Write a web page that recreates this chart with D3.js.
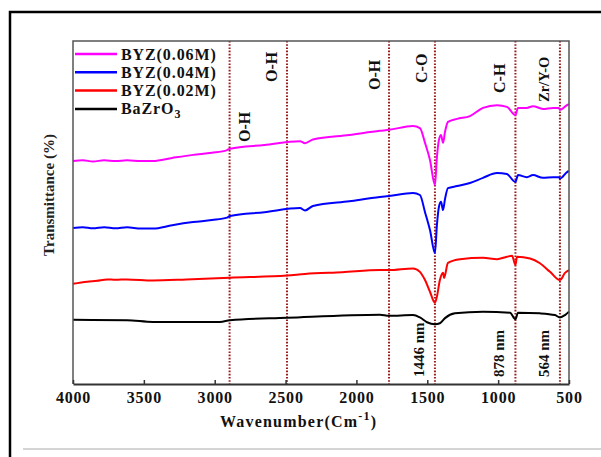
<!DOCTYPE html>
<html>
<head>
<meta charset="utf-8">
<script src="https://cdn.jsdelivr.net/npm/d3@7"></script>
<style>
    body { margin: 0; background: #fff; }
    text { font-family: "Liberation Serif", "Times New Roman", serif; font-weight: bold; }
</style>
</head>
<body>
<div id="chart"></div>
<script>

// series names, colours (legend order top to bottom)
var seriesNames = ["BYZ(0.06M)", "BYZ(0.04M)", "BYZ(0.02M)", "BaZrO3"];
var seriesColours = ["#ff00ff", "#0000ff", "#ff0000", "#000000"];

// [wavenumber, transmittance]
var byz06 = [
    [4000, 65.0], [3930, 65.2], [3860, 64.9], [3780, 65.2], [3700, 65.0], [3619, 65.2],
    [3520, 65.0], [3436, 65.0], [3300, 65.9], [3153, 66.8], [3020, 67.4], [2913, 68.2],
    [2892, 68.6], [2650, 69.7], [2398, 70.8], [2363, 70.2], [2307, 71.3], [2050, 72.6],
    [1834, 73.8], [1770, 74.1], [1601, 75.2], [1552, 74.6], [1516, 70.3], [1481, 65.3],
    [1446, 58.0], [1432, 66.2], [1418, 71.1], [1403, 72.6], [1389, 70.3], [1375, 73.5],
    [1354, 76.4], [1290, 77.3], [1199, 78.1], [1107, 80.5], [1008, 81.3], [938, 80.8],
    [878, 78.4], [860, 80.5], [797, 80.5], [754, 81.0], [684, 80.2], [613, 80.5],
    [571, 80.5], [564, 79.9], [514, 81.3], [500, 81.6]
];

var byz04 = [
    [4000, 45.5], [3930, 45.7], [3860, 45.4], [3780, 45.7], [3700, 45.4], [3619, 45.7],
    [3520, 45.3], [3436, 45.3], [3300, 46.3], [3153, 47.2], [3020, 47.8], [2913, 48.5],
    [2892, 49.0], [2650, 50.1], [2398, 51.3], [2363, 50.6], [2307, 51.9], [2050, 53.3],
    [1834, 54.5], [1770, 54.8], [1601, 55.7], [1552, 55.1], [1516, 50.1], [1481, 44.9],
    [1446, 38.2], [1432, 46.4], [1418, 51.6], [1403, 53.1], [1389, 50.7], [1375, 53.9],
    [1354, 57.1], [1290, 57.7], [1199, 58.6], [1107, 60.1], [1008, 61.5], [938, 61.2],
    [878, 58.9], [860, 60.9], [797, 60.3], [754, 60.9], [684, 60.1], [613, 60.3],
    [571, 60.3], [564, 59.9], [514, 61.8], [500, 62.1]
];

var byz02 = [
    [4000, 29.2], [3900, 29.8], [3830, 30.1], [3760, 30.5], [3700, 30.4], [3619, 30.5],
    [3436, 30.2], [3200, 30.5], [2892, 31.0], [2490, 31.6], [2363, 32.1], [2100, 32.6],
    [1834, 33.2], [1770, 33.2], [1601, 33.7], [1552, 32.7], [1516, 30.3], [1481, 26.9],
    [1446, 23.7], [1432, 25.5], [1411, 30.3], [1389, 32.4], [1382, 30.9], [1354, 35.3],
    [1269, 36.4], [1107, 36.8], [1008, 36.4], [938, 37.1], [902, 37.4], [878, 34.7],
    [867, 37.1], [775, 36.6], [705, 35.2], [634, 32.7], [564, 30.3], [528, 32.4], [500, 33.2]
];

var bazro3 = [
    [4000, 18.7], [3619, 18.6], [3436, 18.1], [2963, 18.1], [2892, 18.6], [2490, 19.3],
    [1834, 20.2], [1770, 19.9], [1601, 20.1], [1552, 19.4], [1502, 18.0], [1446, 17.4],
    [1411, 17.7], [1375, 19.2], [1305, 20.6], [1107, 21.1], [916, 20.8], [878, 18.9],
    [860, 20.8], [705, 20.6], [599, 20.1], [564, 19.4], [528, 20.1], [500, 21.1]
];

var allSeries = [byz06, byz04, byz02, bazro3];

// x ticks
var xTicks = [4000, 3500, 3000, 2500, 2000, 1500, 1000, 500];

// band markers (wavenumber)
var bandLines = [2895, 2490, 1770, 1446, 878, 564];
var bandLabels = ["O-H", "O-H", "O-H", "C-O", "C-H", "Zr/Y-O"];
var peakLabels = ["1446 nm", "878 nm", "564 nm"];
var peakWn = [1446, 878, 564];


var width = 601;
var height = 457;
var margin = { left: 73, right: 32, top: 41, bottom: 73 };

var svg = d3.select("#chart")
    .append("svg")
    .attr("width", width)
    .attr("height", height);

svg.append("rect").attr("width", width).attr("height", height).attr("fill", "#fff");

// outer frame bits (page border)
svg.append("path")
    .attr("d", "M10,457V12H601")
    .attr("fill", "none")
    .attr("stroke", "#000")
    .attr("stroke-width", 2.5);
svg.append("line")
    .attr("x1", 23).attr("x2", 601).attr("y1", 449).attr("y2", 449)
    .attr("stroke", "#aaa").attr("stroke-width", 1);


var x = d3.scaleLinear()
    .domain([4000, 500])
    .range([margin.left, width - margin.right]);

var y = d3.scaleLinear()
    .domain([0, 100])
    .range([height - margin.bottom, margin.top]);

var x0 = x.range()[0], x1 = x.range()[1];
var y0 = y.range()[0], y1 = y.range()[1];

// band lines
svg.selectAll(".band")
    .data(bandLines)
    .enter()
    .append("line")
    .attr("class", "band")
    .attr("x1", function (d) { return x(d); })
    .attr("x2", function (d) { return x(d); })
    .attr("y1", y1)
    .attr("y2", y0)
    .attr("stroke", "#9a1b1b")
    .attr("stroke-width", 2)
    .attr("stroke-dasharray", "1.6,1.6");

// spectra
var line = d3.line()
    .x(function (d) { return x(d[0]); })
    .y(function (d) { return y(d[1]); })
    .curve(d3.curveMonotoneX);

svg.selectAll(".spec")
    .data(allSeries)
    .enter()
    .append("path")
    .attr("class", "spec")
    .attr("d", line)
    .attr("fill", "none")
    .attr("stroke", function (d, i) { return seriesColours[i]; })
    .attr("stroke-width", 2)
    .attr("stroke-linejoin", "round");

// box
svg.append("path")
    .attr("d", "M" + x0 + "," + y0 + "V" + y1 + "H" + x1 + "V" + y0)
    .attr("fill", "none")
    .attr("stroke", "#555")
    .attr("stroke-width", 1.5);

// x axis
var xAxis = svg.append("g")
    .attr("transform", "translate(0," + y0 + ")")
    .call(d3.axisBottom(x)
        .tickValues(xTicks)
        .tickFormat(d3.format("d"))
        .tickSizeInner(-4)
        .tickSizeOuter(0)
        .tickPadding(8));
xAxis.select(".domain").attr("stroke", "#333").attr("stroke-width", 2);
xAxis.selectAll(".tick line").attr("stroke", "#333").attr("stroke-width", 1.5);
xAxis.selectAll("text")
    .attr("font-family", "Liberation Serif, Times New Roman, serif")
    .attr("font-weight", "bold")
    .attr("font-size", 16)
    .attr("letter-spacing", 0.8)
    .attr("fill", "#111");

// axis titles
var xTitle = svg.append("text")
    .attr("x", 220)
    .attr("y", 427)
    .attr("font-size", 16)
    .attr("letter-spacing", 1.2)
    .attr("fill", "#111");
xTitle.append("tspan").text("Wavenumber(Cm");
xTitle.append("tspan").attr("dy", -7).attr("font-size", 12).text("-1");
xTitle.append("tspan").attr("dy", 7).text(")");

svg.append("text")
    .attr("transform", "translate(54," + 195 + ") rotate(-90)")
    .attr("text-anchor", "middle")
    .attr("font-size", 15)
    .attr("fill", "#222")
    .text("Transmittance (%)");

// band labels: offset from the marker line and bottom of text
var bandLabelDx = [20, -10, -9, -8, -10, -11];
var bandLabelY = [142, 82, 90, 83, 93, 102];
var bandLabelSize = [16, 16, 16, 16, 16, 14.5];

svg.selectAll(".bandLabel")
    .data(bandLabels)
    .enter()
    .append("text")
    .attr("class", "bandLabel")
    .attr("transform", function (d, i) {
        return "translate(" + (x(bandLines[i]) + bandLabelDx[i]) + "," + bandLabelY[i] + ") rotate(-90)";
    })
    .attr("font-size", function (d, i) { return bandLabelSize[i]; })
    .attr("fill", "#111")
    .text(function (d) { return d; });

svg.selectAll(".peakLabel")
    .data(peakLabels)
    .enter()
    .append("text")
    .attr("class", "peakLabel")
    .attr("transform", function (d, i) {
        return "translate(" + (x(peakWn[i]) - 11) + "," + 377 + ") rotate(-90)";
    })
    .attr("font-size", 15)
    .attr("fill", "#111")
    .text(function (d) { return d; });

// legend
var legend = svg.append("g").attr("transform", "translate(75,54)");
var rowH = 18.3;

legend.selectAll("line")
    .data(seriesNames)
    .enter()
    .append("line")
    .attr("x1", 0).attr("x2", 42)
    .attr("y1", function (d, i) { return i * rowH; })
    .attr("y2", function (d, i) { return i * rowH; })
    .attr("stroke", function (d, i) { return seriesColours[i]; })
    .attr("stroke-width", 2.5);

legend.selectAll("text")
    .data(seriesNames)
    .enter()
    .append("text")
    .attr("x", 46)
    .attr("y", function (d, i) { return i * rowH + 5.5; })
    .attr("font-size", 16)
    .attr("letter-spacing", 0.9)
    .attr("fill", "#111")
    .each(function (d) {
        var t = d3.select(this);
        var m = d.match(/^(.*?)(\d)$/);
        if (d.indexOf("BYZ") == 0 || !m) {
            t.text(d);
        } else {
            t.append("tspan").text(m[1]);
            t.append("tspan").attr("dy", 4).attr("font-size", 12).text(m[2]);
        }
    });

</script>
</body>
</html>
